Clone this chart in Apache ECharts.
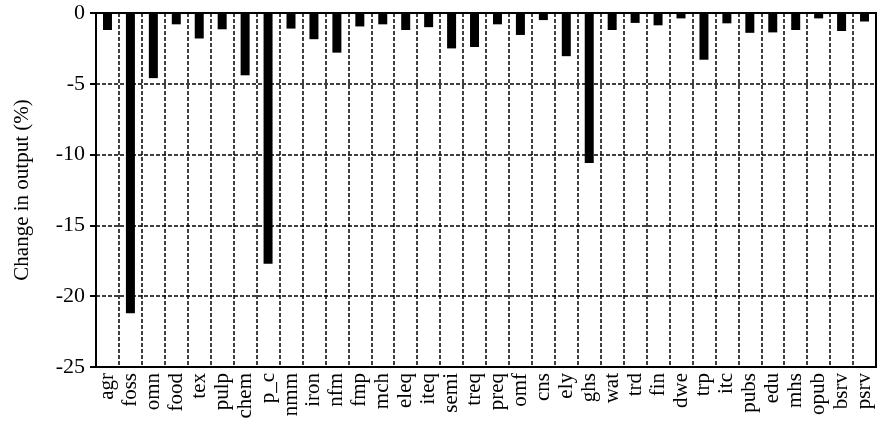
<!DOCTYPE html>
<html>
<head>
<meta charset="utf-8">
<script src="https://cdn.jsdelivr.net/npm/echarts@6/dist/echarts.min.js"></script>
<style>html,body{margin:0;padding:0;background:#fff}#c{width:884px;height:434px}</style>
</head>
<body>
<div id="c"></div>
<script>
const categories = ["agr","foss","omn","food","tex","pulp","chem","p_c","nmm","iron","nfm","fmp","mch","eleq","iteq","semi","treq","preq","omf","cns","ely","ghs","wat","trd","fin","dwe","trp","itc","pubs","edu","mhs","opub","bsrv","psrv"];
const outputChange = [-1.2,-21.2,-4.6,-0.8,-1.8,-1.15,-4.4,-17.7,-1.1,-1.85,-2.8,-0.95,-0.8,-1.2,-1.0,-2.5,-2.4,-0.8,-1.55,-0.5,-3.05,-10.6,-1.2,-0.7,-0.87,-0.38,-3.3,-0.73,-1.4,-1.37,-1.2,-0.38,-1.27,-0.6];
const yTicks = {min: -25, max: 0, interval: 5};
const yName = "Change in output (%)";

const chart = echarts.init(document.getElementById('c'), null, {renderer: 'canvas'});
const font = 'Liberation Serif';
chart.setOption({
  animation: false,
  grid: {left: 96, right: 8, top: 13, bottom: 67, show: true, borderColor: '#000', borderWidth: 2, backgroundColor: 'transparent'},
  xAxis: {
    type: 'category',
    data: categories,
    position: 'bottom',
    axisLine: {onZero: false, lineStyle: {color: '#000', width: 2}},
    axisTick: {show: false},
    axisLabel: {rotate: 90, interval: 0, color: '#000', fontFamily: font, fontSize: 21, margin: 6},
    splitLine: {show: true, interval: 0, lineStyle: {color: '#000', type: [4, 2], width: 1.5}}
  },
  yAxis: {
    type: 'value',
    min: yTicks.min, max: yTicks.max, interval: yTicks.interval,
    name: yName,
    nameLocation: 'middle',
    nameGap: 63,
    nameTextStyle: {color: '#000', fontFamily: font, fontSize: 21},
    axisLine: {show: true, lineStyle: {color: '#000', width: 2}},
    axisTick: {show: true, length: 6, lineStyle: {color: '#000', width: 2}},
    axisLabel: {color: '#000', fontFamily: font, fontSize: 22, margin: 11},
    splitLine: {show: true, lineStyle: {color: '#000', type: [4, 2], width: 1.5}}
  },
  series: [{
    type: 'bar',
    data: outputChange,
    barWidth: 9,
    itemStyle: {color: '#000'}
  }]
});
</script>
</body>
</html>
